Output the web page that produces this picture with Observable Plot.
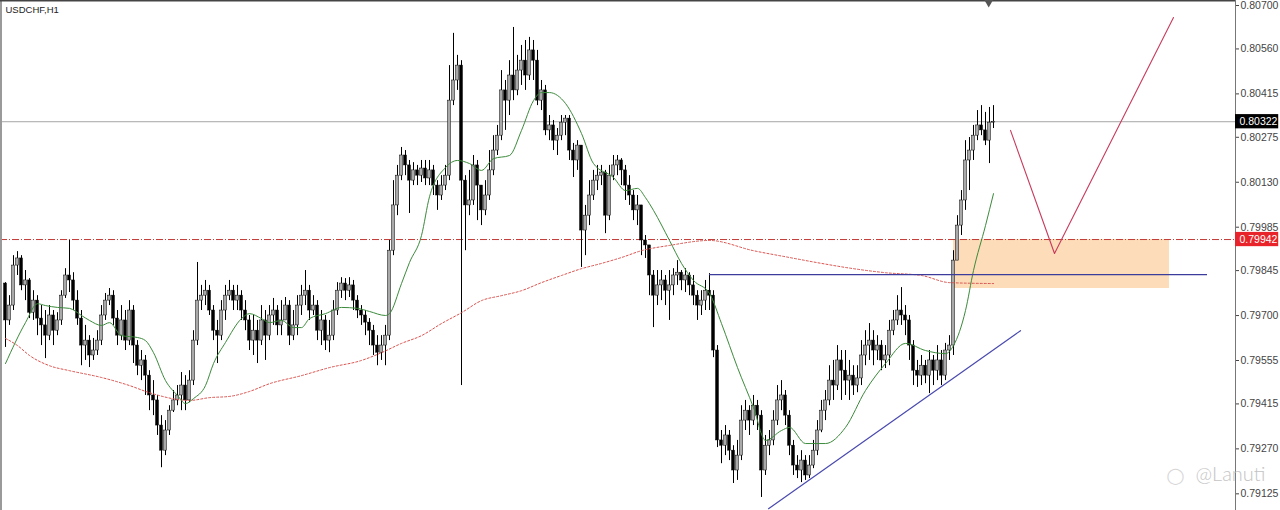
<!DOCTYPE html>
<html><head><meta charset="utf-8">
<script src="https://cdn.jsdelivr.net/npm/d3@7"></script>
<script src="https://cdn.jsdelivr.net/npm/@observablehq/plot@0.6"></script>
<style>
body{margin:0;background:#fff;}
#chart{position:relative;width:1280px;height:510px;overflow:hidden;}
</style>
</head><body><div id="chart"></div>
<script>
// prices stored as integers x 1e5 (0.79800 -> 79800)
const SCALE = 1e5;
const firstOpen = 79800;
const closeP = [
79681,79729,79858,79881,79794,79810,79706,79745,79687,79665,
79632,79697,79648,79681,79761,79826,79810,79745,79687,79600,
79616,79568,79584,79616,79697,79745,79761,79687,79632,79681,
79616,79713,79600,79535,79552,79503,79439,79423,79342,79261,
79326,79390,79423,79439,79471,79423,79487,79616,79745,79761,
79777,79713,79648,79632,79713,79761,79777,79745,79761,79713,
79681,79616,79648,79616,79681,79632,79697,79713,79665,79681,
79729,79632,79665,79729,79761,79777,79713,79729,79648,79681,
79616,79632,79713,79777,79800,79777,79794,79745,79713,79697,
79674,79648,79600,79577,79600,79632,79906,80052,80148,80213,
80181,80132,80165,80148,80171,80139,80165,80116,80084,80116,
80148,80390,80455,80503,80132,80052,80068,80181,80116,80036,
80084,80165,80229,80277,80423,80390,80471,80423,80487,80519,
80471,80552,80519,80390,80423,80294,80310,80261,80277,80319,
80332,80229,80197,80245,79971,80019,80084,80132,80148,80158,
80019,80148,80181,80197,80165,80116,80084,80036,80052,79939,
79923,79826,79761,79794,79810,79777,79794,79826,79835,79810,
79826,79794,79761,79729,79745,79777,79761,79584,79294,79277,
79310,79261,79197,79245,79358,79390,79358,79406,79374,79197,
79277,79294,79358,79423,79439,79374,79277,79213,79197,79229,
79181,79213,79261,79326,79390,79423,79487,79471,79552,79519,
79487,79503,79471,79494,79568,79600,79616,79584,79600,79552,
79568,79648,79681,79713,79697,79681,79600,79519,79503,79535,
79503,79552,79519,79552,79503,79584,79600,79874,79987,80068,
80197,80229,80277,80310,80294,80261,80319,80322];
const highP = [
79803,79761,79890,79903,79890,79842,79816,79777,79761,79729,
79713,79729,79713,79706,79777,79848,79939,79835,79777,79713,
79665,79632,79623,79648,79729,79768,79784,79777,79713,79729,
79713,79745,79729,79616,79584,79568,79519,79487,79439,79374,
79358,79406,79455,79471,79513,79503,79519,79648,79868,79794,
79810,79794,79729,79681,79745,79794,79810,79794,79794,79777,
79745,79697,79697,79681,79729,79713,79729,79752,79729,79745,
79755,79745,79713,79761,79794,79842,79794,79761,79745,79713,
79697,79681,79745,79803,79819,79816,79819,79810,79761,79729,
79713,79687,79665,79632,79632,79665,79939,80132,80181,80239,
80229,80197,80190,80181,80197,80197,80197,80181,80132,80148,
80181,80503,80607,80536,80519,80148,80165,80213,80197,80116,
80132,80229,80277,80310,80487,80455,80519,80626,80536,80568,
80584,80594,80584,80552,80455,80439,80342,80326,80300,80342,
80342,80342,80252,80261,80245,80052,80132,80165,80181,80181,
80165,80181,80213,80213,80203,80181,80148,80100,80084,80052,
79955,79923,79842,79842,79842,79826,79842,79848,79874,79842,
79848,79835,79826,79777,79777,79810,79832,79777,79600,79326,
79342,79326,79277,79294,79406,79423,79406,79439,79423,79390,
79310,79326,79390,79471,79487,79455,79390,79294,79245,79261,
79245,79245,79294,79358,79423,79455,79535,79552,79600,79584,
79584,79552,79535,79535,79616,79648,79671,79648,79632,79616,
79600,79681,79713,79761,79787,79729,79697,79616,79552,79568,
79552,79584,79568,79600,79584,79607,79632,79906,80019,80100,
80261,80271,80310,80358,80374,80352,80368,80374];
const lowP = [
79594,79665,79713,79826,79777,79745,79687,79681,79632,79600,
79558,79616,79600,79632,79665,79752,79771,79713,79665,79535,
79552,79529,79552,79568,79600,79681,79729,79665,79600,79616,
79584,79600,79542,79503,79487,79439,79390,79374,79310,79206,
79245,79310,79384,79406,79390,79390,79416,79471,79600,79713,
79729,79697,79616,79542,79616,79681,79745,79713,79713,79681,
79648,79584,79568,79542,79600,79552,79616,79665,79632,79632,
79681,79600,79616,79632,79697,79729,79681,79697,79616,79600,
79584,79577,79616,79697,79752,79745,79755,79713,79687,79665,
79632,79600,79568,79535,79552,79535,79616,79890,80019,80132,
80148,80026,80116,80116,80126,80116,80116,80084,80036,80068,
80100,80132,80374,80423,79471,79906,80019,80052,80003,79987,
80019,80068,80148,80213,80261,80294,80342,80390,80406,80439,
80423,80455,80455,80374,80358,80277,80261,80229,80213,80261,
80277,80197,80142,80165,79852,79890,79987,80068,80100,80116,
79961,80003,80132,80148,80116,80068,80052,80003,79987,79890,
79881,79761,79658,79729,79745,79729,79681,79761,79794,79777,
79771,79761,79729,79681,79697,79713,79713,79561,79271,79219,
79245,79229,79155,79165,79229,79326,79310,79342,79326,79110,
79181,79245,79277,79342,79390,79342,79245,79181,79171,79158,
79165,79171,79203,79245,79319,79358,79406,79423,79455,79423,
79439,79423,79439,79448,79471,79535,79552,79535,79552,79519,
79526,79535,79632,79665,79665,79632,79552,79471,79465,79471,
79477,79445,79471,79487,79471,79487,79552,79568,79874,79955,
80036,80100,80197,80261,80277,80245,80187,80300];

// moving averages (bar index, price x 1e5)
const greenIdx = [0,5,8,10,13,16,19,21,24,26,29,33,35,37,40,43,45,47,50,52,55,59,61,64,66,69,72,74,76,80,84,88,91,95,96,99,101,104,106,110,113,116,119,122,126,129,132,134,136,140,144,147,152,155,158,160,162,166,169,172,176,179,183,187,190,194,196,200,205,210,215,220,225,230,235,237,240,242,245,247];
const greenVal = [79542,79674,79735,79729,79723,79720,79697,79681,79665,79674,79632,79626,79616,79577,79487,79439,79413,79429,79471,79542,79610,79687,79703,79687,79674,79681,79658,79658,79687,79703,79723,79720,79710,79697,79703,79800,79868,79955,80080,80174,80197,80187,80165,80203,80213,80294,80390,80416,80416,80381,80284,80187,80142,80100,80107,80077,80036,79939,79865,79810,79768,79671,79529,79400,79294,79326,79336,79284,79284,79336,79455,79542,79607,79584,79574,79600,79713,79842,79987,80090];
const redIdx = [0,3,6,11,16,24,31,36,46,51,56,61,66,74,81,89,94,99,104,109,114,119,124,129,134,139,144,149,154,159,166,176,187,196,204,212,220,229,236,247];
const redVal = [79623,79600,79568,79535,79519,79497,79471,79448,79423,79432,79436,79452,79477,79503,79529,79552,79577,79607,79632,79671,79706,79745,79761,79777,79803,79826,79848,79865,79884,79906,79923,79939,79906,79884,79865,79848,79835,79826,79803,79800];

const yTicks = [0.80700,0.80560,0.80415,0.80275,0.80130,0.79985,0.79845,0.79700,0.79555,0.79415,0.79270,0.79125];
const bidPrice = 0.80322;
const levelPrice = 0.79942;
const zoneBars = [237, 291];
const zonePrices = [0.79942, 0.79784];
const blueBars = [176, 300.5];
const bluePrice = 0.79829;
const trendBars = [190.75, 253.75];
const trendPrices = [0.79074, 0.79648];
const zigBars = [251.25, 262.25, 292];
const zigPrices = [0.80294, 0.79897, 0.80658];
const shiftBar = 245.8;

const xMin = -1.25, xMax = 307.5;
const yMin = 0.79068, yMax = 0.80713;

const bars = closeP.map((c, i) => ({
  i,
  o: (i ? closeP[i - 1] : firstOpen) / SCALE,
  c: c / SCALE,
  h: highP[i] / SCALE,
  l: lowP[i] / SCALE
}));
const green = greenIdx.map((i, k) => ({i, v: greenVal[k] / SCALE}));
const red = redIdx.map((i, k) => ({i, v: redVal[k] / SCALE}));
const trend = trendBars.map((i, k) => ({i, v: trendPrices[k]}));
const zig = zigBars.map((i, k) => ({i, v: zigPrices[k]}));
const labelH = 0.00023;
const labelW = 10.8;

const chart = Plot.plot({
  width: 1280, height: 510,
  marginLeft: 0, marginRight: 45, marginTop: 0, marginBottom: 0,
  style: {fontFamily: "Liberation Sans, Arial, sans-serif", background: "#fff"},
  x: {domain: [xMin, xMax], axis: null},
  y: {domain: [yMin, yMax], axis: null},
  marks: [
    Plot.rect([0], {x1: zoneBars[0], x2: zoneBars[1], y1: zonePrices[0], y2: zonePrices[1], fill: "#fddcb9"}),
    Plot.ruleY([bidPrice], {stroke: "#a6a6a6", strokeWidth: 1}),
    Plot.ruleY([levelPrice], {stroke: "#c23a36", strokeWidth: 1, strokeDasharray: "7,2,1,2"}),
    Plot.ruleX(bars, {x: "i", y1: "l", y2: "h", stroke: "#000", strokeWidth: 1}),
    Plot.rect(bars, {
      x1: d => d.i - 0.36, x2: d => d.i + 0.36, y1: "o", y2: "c",
      fill: d => d.c >= d.o ? "#a9a9a9" : "#000", stroke: "#000", strokeWidth: 0.5
    }),
    Plot.line(red, {x: "i", y: "v", stroke: "#d9534f", strokeWidth: 1, strokeDasharray: "2,2", curve: "monotone-x"}),
    Plot.line(green, {x: "i", y: "v", stroke: "#3b8a3b", strokeWidth: 1, curve: "monotone-x"}),
    Plot.ruleY([bluePrice], {x1: blueBars[0], x2: blueBars[1], stroke: "#3c3c9c", strokeWidth: 1.2}),
    Plot.line(trend, {x: "i", y: "v", stroke: "#4a4ab0", strokeWidth: 1.2}),
    Plot.line(zig, {x: "i", y: "v", stroke: "#c83a5c", strokeWidth: 1.1}),
    Plot.ruleX([xMin], {stroke: "#9a9a9a", strokeWidth: 3}),
    Plot.ruleY([yMax], {stroke: "#444", strokeWidth: 2}),
    Plot.ruleX([xMax], {stroke: "#777", strokeWidth: 1}),
    Plot.axisY(yTicks, {anchor: "right", tickFormat: d => d.toFixed(5), tickSize: 3, tickPadding: 2, fontSize: 10.5, color: "#444", dy: 1}),
    Plot.dot([shiftBar], {x: d => d, y: yMax, symbol: "triangle", rotate: 180, r: 4.5, fill: "#555", stroke: null}),
    Plot.rect([bidPrice], {x1: xMax, x2: xMax + labelW, y1: d => d - labelH, y2: d => d + labelH, fill: "#000"}),
    Plot.text([bidPrice], {x: xMax, y: d => d, text: d => d.toFixed(5), dx: 4, textAnchor: "start", fill: "#fff", fontSize: 10.5}),
    Plot.rect([levelPrice], {x1: xMax, x2: xMax + labelW, y1: d => d - labelH, y2: d => d + labelH, fill: "#e8242a"}),
    Plot.text([levelPrice], {x: xMax, y: d => d, text: d => d.toFixed(5), dx: 4, textAnchor: "start", fill: "#fff", fontSize: 10.5}),
    Plot.text(["USDCHF,H1"], {frameAnchor: "top-left", dx: 5, dy: 6, lineAnchor: "top", textAnchor: "start", fontSize: 9.5, fill: "#222"}),
    Plot.text(["◯"], {frameAnchor: "bottom-right", dx: -60, dy: -30, textAnchor: "middle", fontSize: 16, fill: "#d6d6d6", fontFamily: "DejaVu Sans"}),
    Plot.text(["@Lanuti"], {frameAnchor: "bottom-right", dx: 30, dy: -30, textAnchor: "end", fontSize: 20, fill: "#c4c4c4", fontFamily: "Lato", fontWeight: 300})
  ]
});
document.getElementById("chart").appendChild(chart);
</script>
</body></html>
